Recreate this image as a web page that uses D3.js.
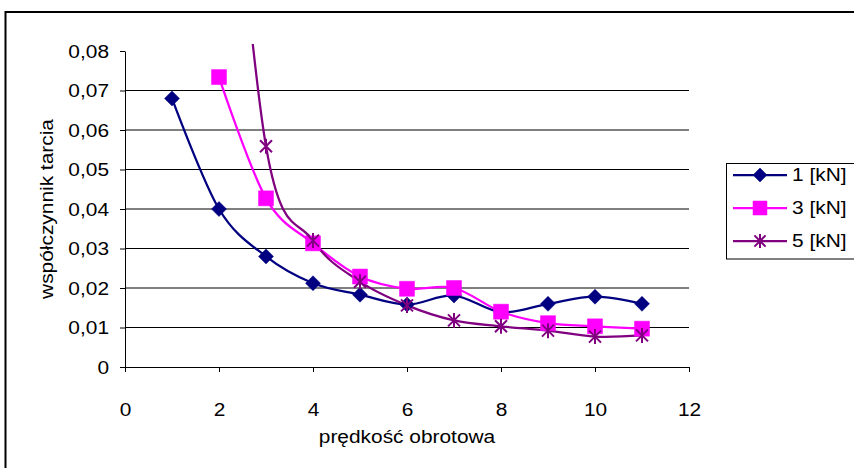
<!DOCTYPE html>
<html>
<head>
<meta charset="utf-8">
<script src="https://cdn.jsdelivr.net/npm/d3@7"></script>
<style>
  body { margin: 0; background: #fff; }
  text { font-family: "Liberation Sans", Arial, sans-serif; font-size: 18.5px; fill: #000; }
</style>
</head>
<body>
<div id="chart"></div>
<script>
"use strict";

// data
const speeds = [1, 2, 3, 4, 5, 6, 7, 8, 9, 10, 11];
const load1kN = [0.068, 0.040, 0.028, 0.0212, 0.0183, 0.0158, 0.0181, 0.0139, 0.0160, 0.0178, 0.0160];
const load3kN = [null, 0.0734, 0.0427, 0.0313, 0.0229, 0.0198, 0.0200, 0.0140, 0.0111, 0.0103, 0.0097];
const load5kN = [null, 0.17, 0.0559, 0.0320, 0.0216, 0.0156, 0.0118, 0.0103, 0.0092, 0.0077, 0.0080];
const seriesNames = ["1 [kN]", "3 [kN]", "5 [kN]"];
const xTicks = [0, 2, 4, 6, 8, 10, 12];
const yTicks = [0, 0.01, 0.02, 0.03, 0.04, 0.05, 0.06, 0.07, 0.08];

const colors = ["#000080", "#ff00ff", "#800080"];
const markers = ["diamond", "square", "star"];
const stretch = 1.13; // the original font runs wider than Liberation Sans

const W = 854, H = 468;
const plot = {left: 125, right: 689, top: 51, bottom: 367, clipTop: 44};

const svg = d3.select("#chart").append("svg")
  .attr("width", W)
  .attr("height", H);

// outer chart frame (runs off the right and bottom edges)
svg.append("rect")
  .attr("x", 5.5).attr("y", 12)
  .attr("width", 1000).attr("height", 1000)
  .attr("fill", "none")
  .attr("stroke", "#000")
  .attr("stroke-width", 2);

const x = d3.scaleLinear().domain([0, 12]).range([plot.left, plot.right]);
const y = d3.scaleLinear().domain([0, 0.08]).range([plot.bottom, plot.top]);

// gridlines
svg.append("g")
  .selectAll("line")
  .data(yTicks.filter(d => d > 0 && d < 0.08))
  .join("line")
  .attr("x1", plot.left).attr("x2", plot.right)
  .attr("y1", d => y(d)).attr("y2", d => y(d))
  .attr("stroke", "#000")
  .attr("stroke-width", 1);

const fmt = d => d === 0 ? "0" : d3.format(".2f")(d).replace(".", ",");

// y axis
const yAxis = svg.append("g")
  .attr("transform", "translate(" + plot.left + ",0)")
  .style("color", "#000")
  .call(d3.axisLeft(y).tickValues(yTicks).tickSize(5).tickSizeOuter(0).tickFormat(fmt));
yAxis.selectAll("text")
  .attr("x", -16 / stretch)
  .attr("dy", "0.35em")
  .attr("transform", "scale(" + stretch + ",1)");

// x axis
const xAxis = svg.append("g")
  .attr("transform", "translate(0," + plot.bottom + ")")
  .style("color", "#000")
  .call(d3.axisBottom(x).tickValues(xTicks).tickSize(5).tickSizeOuter(0));
xAxis.selectAll("text")
  .attr("y", 48.8)
  .attr("dy", 0)
  .attr("transform", "scale(" + stretch + ",1)");

// axis titles
svg.append("text")
  .attr("text-anchor", "middle")
  .attr("transform", "translate(407,443) scale(" + stretch + ",1)")
  .text("prędkość obrotowa");

svg.append("text")
  .attr("text-anchor", "middle")
  .attr("transform", "translate(53,209) rotate(-90) scale(" + stretch + ",1)")
  .text("współczynnik tarcia");

// series
svg.append("clipPath").attr("id", "plotclip")
  .append("rect")
  .attr("x", plot.left - 20).attr("y", plot.clipTop)
  .attr("width", plot.right - plot.left + 40)
  .attr("height", plot.bottom - plot.clipTop);

const series = [load1kN, load3kN, load5kN].map((vals, i) => ({
  name: seriesNames[i],
  color: colors[i],
  marker: markers[i],
  points: speeds.map((s, j) => ({s: s, v: vals[j]})).filter(p => p.v != null)
}));

const line = d3.line()
  .curve(d3.curveCardinal.tension(0))
  .x(d => x(d.s))
  .y(d => y(d.v));

function markerPath(type, r) {
  if (type === "diamond") return `M0,${-r}L${r},0L0,${r}L${-r},0Z`;
  if (type === "square") return `M${-r},${-r}H${r}V${r}H${-r}Z`;
  const a = r * 0.8;
  return `M${-a},${-a}L${a},${a}M${-a},${a}L${a},${-a}M0,${-r}L0,${r}`;
}

function drawMarker(g, type, color, r) {
  g.append("path")
    .attr("d", markerPath(type, r))
    .attr("fill", type === "star" ? "none" : color)
    .attr("stroke", color)
    .attr("stroke-width", type === "star" ? 2 : 0.5);
}

const plotG = svg.append("g").attr("clip-path", "url(#plotclip)");

series.forEach(sr => {
  plotG.append("path")
    .datum(sr.points)
    .attr("fill", "none")
    .attr("stroke", sr.color)
    .attr("stroke-width", 2.25)
    .attr("d", line);
});

series.forEach(sr => {
  sr.points.forEach(p => {
    const g = plotG.append("g")
      .attr("transform", "translate(" + x(p.s) + "," + y(p.v) + ")");
    drawMarker(g, sr.marker, sr.color, sr.marker === "diamond" ? 7.5 : 7.5);
  });
});

// legend
const legend = svg.append("g");
legend.append("rect")
  .attr("x", 726.5).attr("y", 163.5)
  .attr("width", 200).attr("height", 95.5)
  .attr("fill", "#fff")
  .attr("stroke", "#000")
  .attr("stroke-width", 1);

series.forEach((sr, i) => {
  const ly = 175 + i * 33;
  legend.append("line")
    .attr("x1", 733).attr("x2", 787)
    .attr("y1", ly).attr("y2", ly)
    .attr("stroke", sr.color)
    .attr("stroke-width", 2.25);
  const g = legend.append("g").attr("transform", "translate(760," + ly + ")");
  drawMarker(g, sr.marker, sr.color, 7);
  legend.append("text")
    .attr("dy", "0.35em")
    .attr("transform", "translate(792," + ly + ") scale(" + stretch + ",1)")
    .text(sr.name);
});
</script>
</body>
</html>
